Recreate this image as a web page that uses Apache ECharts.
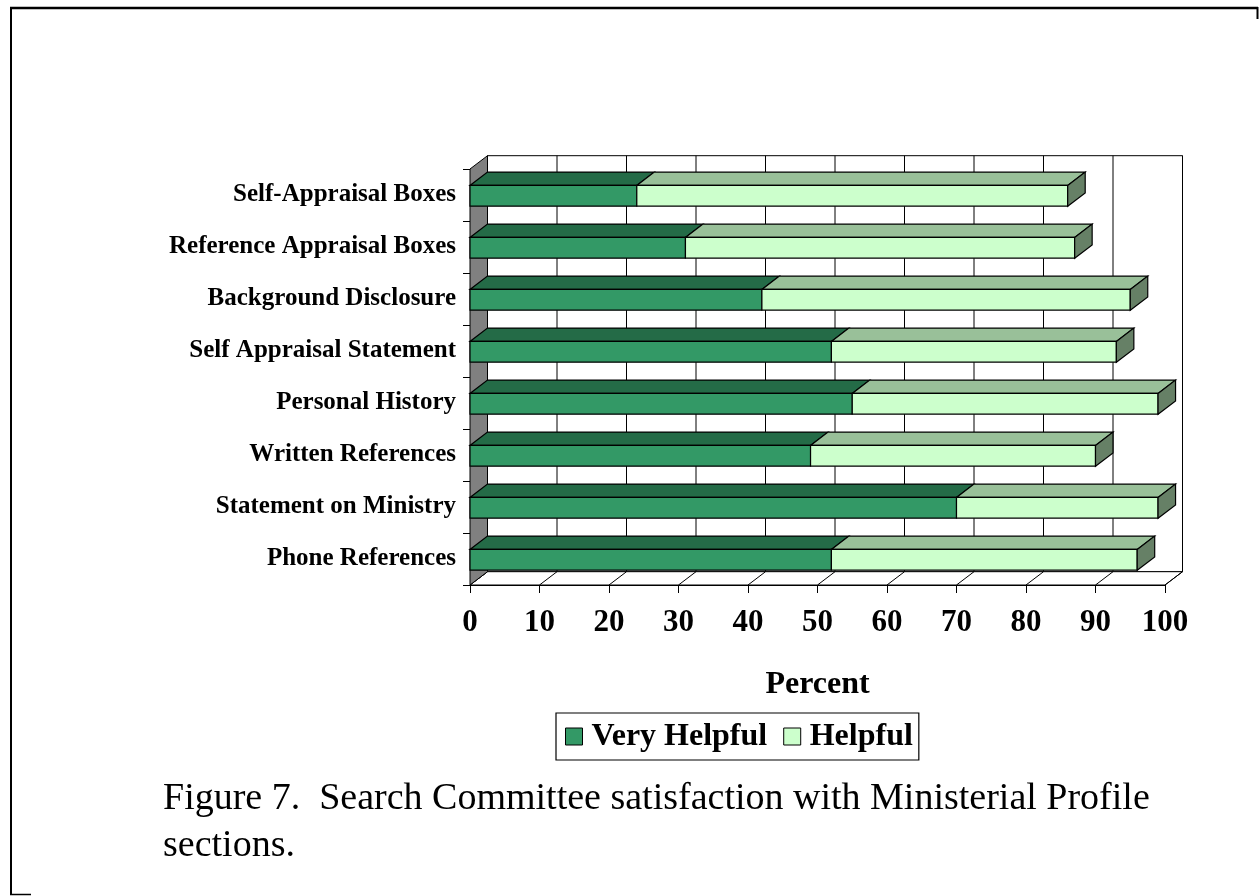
<!DOCTYPE html>
<html><head><meta charset="utf-8">
<script src="https://cdn.jsdelivr.net/npm/echarts@6/dist/echarts.min.js"></script>
<style>html,body{margin:0;padding:0;background:#fff}#c{width:1259px;height:896px}</style>
</head><body><div id="c"></div>
<script>
// ---- data ----
const categories = ['Self-Appraisal Boxes','Reference Appraisal Boxes','Background Disclosure','Self Appraisal Statement','Personal History','Written References','Statement on Ministry','Phone References'];
const veryHelpful = [24, 31, 42, 52, 55, 49, 70, 52];
const helpful     = [62, 56, 53, 41, 44, 41, 29, 44];
const xTicks = [0, 10, 20, 30, 40, 50, 60, 70, 80, 90, 100];
const seriesNames = ['Very Helpful', 'Helpful'];
const axisName = 'Percent';
const caption = 'Figure 7.  Search Committee satisfaction with Ministerial Profile\nsections.';

// ---- style ----
const FONT = '"Liberation Serif","Times New Roman",serif';
const DX = 17.5, DY = 13.3;           // 3D depth offset
const BAR_FRAC = 0.40;                 // front face thickness / band
const colors = {
  vhFront: '#339966', vhTop: '#246b47',
  hFront: '#ccffcc', hTop: '#99c099', hSide: '#668066',
  wall: '#808080'
};

const vhData = categories.map((c, i) => [i, 0, veryHelpful[i]]);
const hData = categories.map((c, i) => [i, veryHelpful[i], veryHelpful[i] + helpful[i]]);

function makeBarRender(front, top, side) {
  return function (params, api) {
    const cat = api.value(0), s = api.value(1), e = api.value(2);
    const p0 = api.coord([s, cat]), p1 = api.coord([e, cat]);
    const h = api.size([0, 1])[1] * BAR_FRAC;
    const cy = p0[1] + 0.8;
    const x0 = p0[0], x1 = p1[0], y0 = cy - h / 2, y1 = cy + h / 2;
    const st = { stroke: '#000', lineWidth: 1.2, lineJoin: 'miter' };
    const ch = [
      { type: 'polygon', shape: { points: [[x0, y0], [x1, y0], [x1 + DX, y0 - DY], [x0 + DX, y0 - DY]] }, style: Object.assign({ fill: top }, st) },
      { type: 'rect', shape: { x: x0, y: y0, width: x1 - x0, height: h }, style: Object.assign({ fill: front }, st) }
    ];
    if (side) ch.push({ type: 'polygon', shape: { points: [[x1, y0], [x1 + DX, y0 - DY], [x1 + DX, y1 - DY], [x1, y1]] }, style: Object.assign({ fill: side }, st) });
    return { type: 'group', children: ch };
  };
}

function wallRender(params, api) {
  const cs = params.coordSys;
  const L = cs.x, T = cs.y, R = cs.x + cs.width, B = cs.y + cs.height;
  const st = { stroke: '#000', lineWidth: 1 };
  const ch = [];
  // back wall
  ch.push({ type: 'rect', shape: { x: L + DX, y: T - DY, width: cs.width, height: cs.height }, style: { fill: '#fff', stroke: '#000', lineWidth: 1 } });
  xTicks.forEach(t => {
    const x = api.coord([t, 0])[0];
    ch.push({ type: 'line', shape: { x1: x + DX, y1: T - DY, x2: x + DX, y2: B - DY }, style: st });
  });
  // floor
  ch.push({ type: 'polygon', shape: { points: [[L, B], [R, B], [R + DX, B - DY], [L + DX, B - DY]] }, style: { fill: '#fff', stroke: '#000', lineWidth: 1 } });
  xTicks.forEach(t => {
    const x = api.coord([t, 0])[0];
    ch.push({ type: 'line', shape: { x1: x, y1: B, x2: x + DX, y2: B - DY }, style: st });
  });
  // left wall
  ch.push({ type: 'polygon', shape: { points: [[L, T], [L + DX, T - DY], [L + DX, B - DY], [L, B]] }, style: { fill: colors.wall, stroke: '#000', lineWidth: 1 } });
  return { type: 'group', children: ch };
}

const chart = echarts.init(document.getElementById('c'), null, { renderer: 'canvas' });
chart.setOption({
  animation: false,
  backgroundColor: '#fff',
  title: {
    text: caption, left: 163, top: 776, padding: 0,
    textStyle: { fontFamily: FONT, fontSize: 38, fontWeight: 'normal', color: '#000', lineHeight: 47 }
  },
  legend: {
    left: 556, top: 713, orient: 'horizontal',
    padding: [7, 6, 7, 9], borderColor: '#000', borderWidth: 1.2,
    itemWidth: 17, itemHeight: 17, itemGap: 16,
    textStyle: { fontFamily: FONT, fontSize: 32, fontWeight: 'bold', color: '#000', lineHeight: 33, padding: [0, 0, 0, 4] },
    data: [
      { name: seriesNames[0], icon: 'rect', itemStyle: { color: colors.vhFront, borderColor: '#000', borderWidth: 1 } },
      { name: seriesNames[1], icon: 'rect', itemStyle: { color: colors.hFront, borderColor: '#000', borderWidth: 1 } }
    ]
  },
  grid: { left: 470, top: 169, width: 695, height: 416, containLabel: false },
  xAxis: {
    type: 'value', min: 0, max: 100, interval: 10,
    axisLine: { show: true, lineStyle: { color: '#000', width: 1.2 } },
    axisTick: { show: true, length: 8, lineStyle: { color: '#000' } },
    splitLine: { show: false },
    axisLabel: { fontFamily: FONT, fontSize: 31, fontWeight: 'bold', color: '#000', margin: 22 },
    name: axisName, nameLocation: 'middle', nameGap: 84,
    nameTextStyle: { fontFamily: FONT, fontSize: 32, fontWeight: 'bold', color: '#000' }
  },
  yAxis: {
    type: 'category', data: categories, inverse: true,
    axisLine: { show: true, lineStyle: { color: '#000', width: 1 } },
    axisTick: { show: true, length: 7, lineStyle: { color: '#000' } },
    splitLine: { show: false },
    axisLabel: { fontFamily: FONT, fontSize: 25, fontWeight: 'bold', color: '#000', margin: 14 }
  },
  series: [
    { type: 'custom', name: '__walls', silent: true, z: 1, renderItem: wallRender, data: [[0, 0, 0]], encode: { x: 1, y: 0 } },
    { type: 'custom', name: seriesNames[0], z: 3, itemStyle: { color: colors.vhFront }, renderItem: makeBarRender(colors.vhFront, colors.vhTop, null), data: vhData, encode: { x: [1, 2], y: 0 } },
    { type: 'custom', name: seriesNames[1], z: 4, itemStyle: { color: colors.hFront }, renderItem: makeBarRender(colors.hFront, colors.hTop, colors.hSide), data: hData, encode: { x: [1, 2], y: 0 } }
  ],
  graphic: [
    { type: 'line', shape: { x1: 10, y1: 8, x2: 1258, y2: 8 }, style: { stroke: '#000', lineWidth: 2.5 } },
    { type: 'line', shape: { x1: 1257.5, y1: 7, x2: 1257.5, y2: 19 }, style: { stroke: '#000', lineWidth: 2 } },
    { type: 'line', shape: { x1: 11, y1: 7, x2: 11, y2: 895 }, style: { stroke: '#000', lineWidth: 2 } },
    { type: 'line', shape: { x1: 10, y1: 894.5, x2: 31, y2: 894.5 }, style: { stroke: '#000', lineWidth: 1.5 } }
  ]
});
</script>
</body></html>
